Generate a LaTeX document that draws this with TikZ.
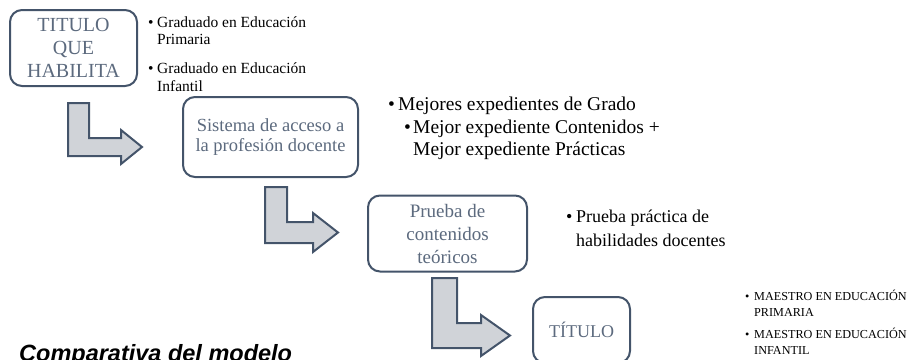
\documentclass[tikz,border=0pt]{standalone}
\usepackage{fontspec}
\setmainfont{Liberation Serif}
\newfontfamily\capfont{Liberation Sans}
\definecolor{slate}{RGB}{68,84,106}
\definecolor{slatetext}{RGB}{92,106,126}
\definecolor{arrowfill}{RGB}{208,211,216}
\begin{document}
\begin{tikzpicture}[x=1pt,y=-1pt,
  stagebox/.style={draw=slate, line width=2pt, rounded corners=12pt, fill=white,
    text=slatetext, align=center, inner sep=0pt},
  bentarrow/.style={draw=slate, line width=2pt, fill=arrowfill, line join=miter},
  itemline/.style={anchor=base west, inner sep=0pt, text=black}]
\useasboundingbox (0,0) rectangle (910,359);
\clip (0,0) rectangle (910,359);

% stage boxes
\node[stagebox, minimum width=127pt, minimum height=76pt,
  font={\fontsize{20}{23}\selectfont}] (b1) at (73.5,48) {TITULO\\QUE\\HABILITA};
\node[stagebox, minimum width=175pt, minimum height=80pt,
  font={\fontsize{18.5}{20.5}\selectfont}] (b2) at (270.5,137) {Sistema de acceso a\\la profesión docente};
\node[stagebox, minimum width=159pt, minimum height=76pt,
  font={\fontsize{19}{23}\selectfont}] (b3) at (447.5,233.5) {Prueba de\\contenidos\\teóricos};
\node[stagebox, minimum width=97pt, minimum height=66pt,
  font={\fontsize{18}{21}\selectfont}] (b4) at (581.5,330) {TÍTULO};

% bent arrows
\draw[bentarrow] (68,103) -- (89,103) -- (89,138) -- (121,138) -- (121,130)
  -- (142,147) -- (121,164) -- (121,156) -- (68,156) -- cycle;
\draw[bentarrow] (265,187) -- (287,187) -- (287,222) -- (313,222) -- (313,213)
  -- (338,232.5) -- (313,252) -- (313,243) -- (265,243) -- cycle;
\draw[bentarrow] (432,278) -- (457,278) -- (457,323) -- (481,323) -- (481,315)
  -- (510,335.5) -- (481,356) -- (481,348) -- (432,348) -- cycle;

% list 1
\begin{scope}[font={\fontsize{15.5}{18}\selectfont}]
\node[itemline] (u1a) at (148,27) {•};
\node[itemline] (t1a) at (157,27) {Graduado en Educación};
\node[itemline] (t1a2) at (157,44) {Primaria};
\node[itemline] (u1b) at (148,73) {•};
\node[itemline] (t1b) at (157,73) {Graduado en Educación};
\node[itemline] (t1b2) at (157,91) {Infantil};
\end{scope}

% list 2
\begin{scope}[font={\fontsize{19.5}{20.5}\selectfont}]
\node[itemline] (u2a) at (388,110) {•};
\node[itemline] (t2a) at (398,110) {Mejores expedientes de Grado};
\node[itemline] (u2b) at (404,133) {•};
\node[itemline] (t2b) at (413,133) {Mejor expediente Contenidos +};
\node[itemline] (t2b2) at (413,155) {Mejor expediente Prácticas};
\end{scope}

% list 3
\begin{scope}[font={\fontsize{18}{21.5}\selectfont}]
\node[itemline] (u3a) at (566,222) {•};
\node[itemline] (t3a) at (576,222) {Prueba práctica de};
\node[itemline] (t3a2) at (576,246) {habilidades docentes};
\end{scope}

% list 4
\begin{scope}[font={\fontsize{12.2}{16}\selectfont}]
\node[itemline] (u4a) at (745,300) {•};
\node[itemline] (t4a) at (754,300) {MAESTRO EN EDUCACIÓN};
\node[itemline] (t4a2) at (754,316) {PRIMARIA};
\node[itemline] (u4b) at (745,338) {•};
\node[itemline] (t4b) at (754,338) {MAESTRO EN EDUCACIÓN};
\node[itemline] (t4b2) at (754,354) {INFANTIL};
\end{scope}

% caption (cut by the page edge)
\node[anchor=base west, inner sep=0pt,
  font={\capfont\bfseries\itshape\fontsize{23.5}{27}\selectfont}] (cap) at (19,361) {Comparativa del modelo};
\end{tikzpicture}
\end{document}
